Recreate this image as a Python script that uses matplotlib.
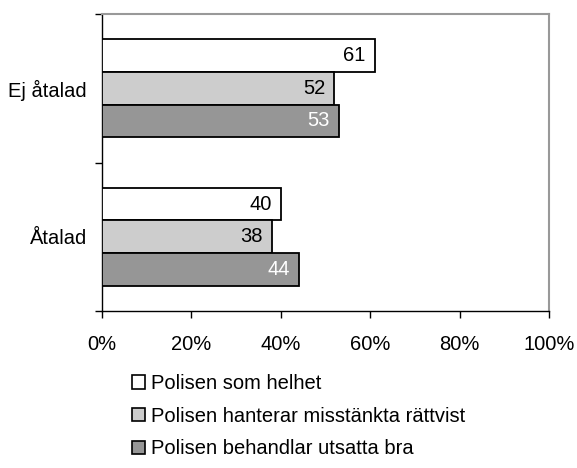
import numpy as np
import matplotlib
matplotlib.use("Agg")
import matplotlib.pyplot as plt
from matplotlib.patches import Patch

plt.rcParams['font.family'] = ['Liberation Sans', 'DejaVu Sans']

# data
categories = ["Åtalad", "Ej åtalad"]
series = ["Polisen som helhet",
          "Polisen hanterar misstänkta rättvist",
          "Polisen behandlar utsatta bra"]
values = {
    "Polisen som helhet": [40, 61],
    "Polisen hanterar misstänkta rättvist": [38, 52],
    "Polisen behandlar utsatta bra": [44, 53],
}
xticks = [0, 20, 40, 60, 80, 100]

FILL = ["#ffffff", "#cdcdcd", "#969696"]
TXT = ["black", "black", "white"]
FS = 14.5

fig = plt.figure(figsize=(5.77, 4.68), dpi=100)
ax = fig.add_axes([102 / 577, 1 - 311 / 468, 447 / 577, 297 / 468])

y = np.arange(len(categories))
h = 0.22
offsets = [h, 0, -h]
for i, s in enumerate(series):
    bars = ax.barh(y + offsets[i], values[s], height=h, color=FILL[i],
                   edgecolor="black", linewidth=1.3, zorder=3)
    for b, v in zip(bars, values[s]):
        ax.text(v - 2.0, b.get_y() + h / 2, f"{v}", ha="right", va="center",
                fontsize=FS, color=TXT[i], zorder=4)

ax.set_xlim(0, 100)
ax.set_ylim(-0.5, 1.5)
ax.set_xticks(xticks)
ax.set_xticklabels([f"{t}%" for t in xticks], fontsize=FS)
ax.set_yticks(y)
ax.set_yticklabels(categories, fontsize=FS)
ax.set_yticks([-0.5, 0.5, 1.5], minor=True)
ax.tick_params(axis="y", which="major", length=0, pad=11)
ax.tick_params(axis="y", which="minor", length=5, width=1, direction="out")
ax.tick_params(axis="x", length=5, width=1, direction="out", pad=12)

for side in ("top", "right"):
    ax.spines[side].set_color("#999999")
    ax.spines[side].set_linewidth(1.5)
for side in ("left", "bottom"):
    ax.spines[side].set_color("black")
    ax.spines[side].set_linewidth(1.0)

handles = [Patch(facecolor=FILL[i], edgecolor="black", linewidth=1.2, label=s)
           for i, s in enumerate(series)]
fig.legend(handles=handles, loc="upper left", bbox_to_anchor=(132 / 577, 1 - 374 / 468),
           frameon=False, fontsize=FS, handlelength=0.65, handleheight=0.65,
           handletextpad=0.3, labelspacing=0.68, borderaxespad=0, borderpad=0)

fig.savefig("out.png", dpi=100)
